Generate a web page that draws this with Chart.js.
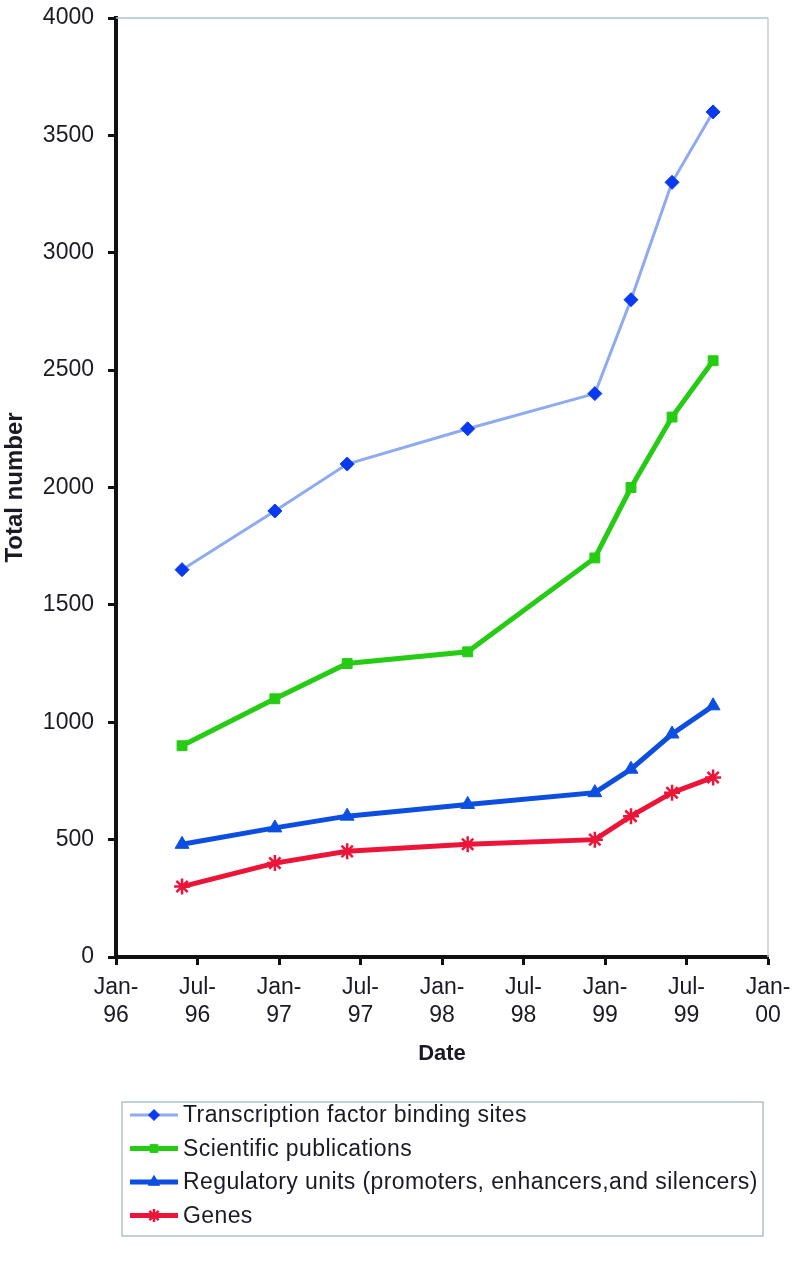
<!DOCTYPE html>
<html>
<head>
<meta charset="utf-8">
<script src="https://cdn.jsdelivr.net/npm/chart.js@4"></script>
<style>
  html, body { margin: 0; padding: 0; background: #fff; }
  #wrap { width: 800px; height: 1261px; }
</style>
</head>
<body>
<div id="wrap"><canvas id="myChart" width="800" height="1261"></canvas></div>
<script>
// release dates
const releaseDates = ['1996-05-28', '1996-12-22', '1997-06-02', '1998-02-27',
                      '1998-12-09', '1999-02-28', '1999-05-31', '1999-08-31'];
const bindingSites = [1650, 1900, 2100, 2250, 2400, 2800, 3300, 3600];
const publications = [900, 1100, 1250, 1300, 1700, 2000, 2300, 2540];
const regulatoryUnits = [480, 550, 600, 650, 700, 800, 950, 1070];
const genes = [300, 400, 450, 480, 500, 600, 700, 765];
const xTickMonths = ['Jan-', 'Jul-', 'Jan-', 'Jul-', 'Jan-', 'Jul-', 'Jan-', 'Jul-', 'Jan-'];
const xTickYears = ['96', '96', '97', '97', '98', '98', '99', '99', '00'];
const seriesNames = ['Transcription factor binding sites', 'Scientific publications',
                     'Regulatory units (promoters, enhancers,and silencers)', 'Genes'];

const FONT = '"Liberation Sans", Arial, sans-serif';
const TEXT = '#1a1a24';

// months since Jan-96
function toMonths(s) {
  const days = (Date.parse(s) - Date.parse('1996-01-01')) / 86400000;
  return days / (1461 / 48);
}
function pts(values) {
  return values.map((v, i) => ({ x: toMonths(releaseDates[i]), y: v }));
}

// thin frame on top and right, like the original
const frame = {
  id: 'frame',
  beforeDatasetsDraw(chart) {
    const { ctx, chartArea: a } = chart;
    ctx.save();
    ctx.lineWidth = 1.5;
    ctx.strokeStyle = '#a8c8c4';
    ctx.beginPath();
    ctx.moveTo(a.left, a.top);
    ctx.lineTo(a.right, a.top);
    ctx.stroke();
    ctx.strokeStyle = '#c4ccd4';
    ctx.beginPath();
    ctx.moveTo(a.right, a.top);
    ctx.lineTo(a.right, a.bottom);
    ctx.stroke();
    ctx.restore();
  }
};

// boxed legend below the chart with line + marker samples
const boxLegend = {
  id: 'boxLegend',
  afterDraw(chart) {
    const ctx = chart.ctx;
    ctx.save();
    ctx.strokeStyle = '#9ab4b4';
    ctx.lineWidth = 1.2;
    ctx.strokeRect(122, 1102, 641, 134);
    chart.data.datasets.forEach((ds, i) => {
      const y = 1115 + i * 33.5;
      ctx.strokeStyle = ds.borderColor;
      ctx.lineWidth = ds.borderWidth;
      ctx.beginPath();
      ctx.moveTo(130, y);
      ctx.lineTo(178, y);
      ctx.stroke();
      ctx.fillStyle = ds.pointBackgroundColor;
      ctx.strokeStyle = ds.pointBorderColor;
      ctx.lineWidth = ds.pointBorderWidth;
      Chart.helpers.drawPoint(ctx, {
        pointStyle: ds.pointStyle, radius: ds.pointRadius - 1.5,
        rotation: 0, borderWidth: ds.pointBorderWidth
      }, 154, y);
      ctx.fillStyle = TEXT;
      ctx.font = '23px ' + FONT;
      ctx.letterSpacing = '0.4px';
      ctx.textBaseline = 'middle';
      ctx.fillText(ds.label, 183, y + 1);
    });
    ctx.restore();
  }
};

const ctx = document.getElementById('myChart').getContext('2d');
var myChart = new Chart(ctx, {         //eslint-disable-line
  type: 'line',
  data: {
    datasets: [{
      label: seriesNames[0],
      data: pts(bindingSites),
      borderColor: '#8eaaf0',
      borderWidth: 3,
      pointStyle: 'rectRot',
      pointRadius: 7,
      pointBackgroundColor: '#0a3af0',
      pointBorderColor: '#0a3af0',
      pointBorderWidth: 1
    }, {
      label: seriesNames[1],
      data: pts(publications),
      borderColor: '#26cc14',
      borderWidth: 5,
      pointStyle: 'rect',
      pointRadius: 7,
      pointBackgroundColor: '#26cc14',
      pointBorderColor: '#26cc14',
      pointBorderWidth: 1
    }, {
      label: seriesNames[2],
      data: pts(regulatoryUnits),
      borderColor: '#0c4fe0',
      borderWidth: 5,
      pointStyle: 'triangle',
      pointRadius: 8,
      pointBackgroundColor: '#0c4fe0',
      pointBorderColor: '#0c4fe0',
      pointBorderWidth: 1
    }, {
      label: seriesNames[3],
      data: pts(genes),
      borderColor: '#ec1438',
      borderWidth: 5,
      pointStyle: 'star',
      pointRadius: 8,
      pointBackgroundColor: '#ec1438',
      pointBorderColor: '#ec1438',
      pointBorderWidth: 2.5
    }]
  },
  options: {
    responsive: false,
    animation: false,
    clip: false,
    layout: { padding: { left: 0, top: 18, right: 32, bottom: 194 } },
    plugins: {
      legend: { display: false },
      tooltip: { enabled: false }
    },
    elements: { line: { tension: 0 } },
    scales: {
      x: {
        type: 'linear',
        min: 0,
        max: 48,
        afterFit: (s) => { s.height = 110; },
        ticks: {
          stepSize: 6,
          autoSkip: false,
          maxRotation: 0,
          padding: 8,
          color: TEXT,
          font: { family: FONT, size: 23, lineHeight: 1.25 },
          callback: (v, i) => [xTickMonths[i], xTickYears[i]]
        },
        grid: { drawOnChartArea: false, tickLength: 8, tickWidth: 3, tickColor: '#111' },
        border: { color: '#111', width: 4 },
        title: {
          display: true, text: 'Date', color: TEXT,
          padding: { top: 0, bottom: 0 },
          font: { family: FONT, size: 22, weight: 'bold' }
        }
      },
      y: {
        min: 0,
        max: 4000,
        afterFit: (s) => { s.width = 116; s.paddingTop = 10; s.paddingBottom = 10; },
        ticks: {
          stepSize: 500,
          padding: 14,
          color: TEXT,
          font: { family: FONT, size: 23 },
          callback: (v) => String(v)
        },
        grid: { drawOnChartArea: false, tickLength: 8, tickWidth: 3, tickColor: '#111' },
        border: { color: '#111', width: 4 },
        title: {
          display: true, text: 'Total number', color: TEXT,
          padding: { top: 1, bottom: 0 },
          font: { family: FONT, size: 24, weight: 'bold' }
        }
      }
    }
  },
  plugins: [frame, boxLegend]
});
</script>
</body>
</html>
